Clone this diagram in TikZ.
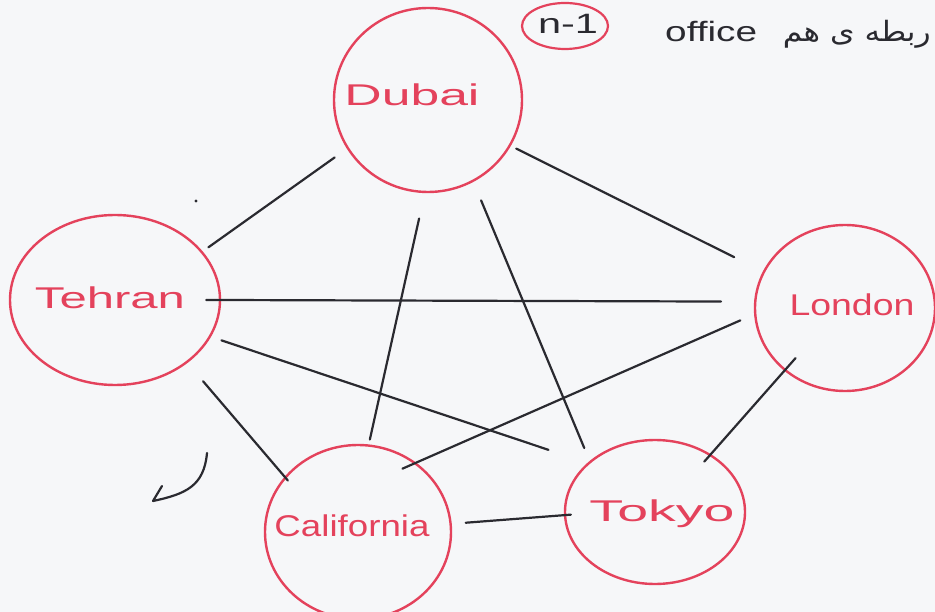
\documentclass[tikz,border=0pt]{standalone}
\usepackage{fontspec}
\setmainfont{Liberation Sans}
\newfontfamily\farsi[Script=Arabic]{DejaVu Sans}
\usetikzlibrary{shapes.geometric}
\TeXXeTstate=1
\definecolor{penred}{RGB}{228,66,92}
\definecolor{ink}{RGB}{42,42,48}
\definecolor{paper}{RGB}{246,247,249}
% stretch a label horizontally to a given width, keeping its height
\newcommand{\fitw}[2]{\resizebox{#1}{\height}{#2}}
\begin{document}
\begin{tikzpicture}[x=1pt,y=-1pt,
  office/.style={ellipse, draw=penred, line width=2.4pt, inner sep=0pt},
  lbl/.style={text=penred, font=\fontsize{30}{30}\selectfont, inner sep=0pt},
  link/.style={draw=ink, line width=2.2pt, line cap=round, line join=round},
  note/.style={text=ink, font=\fontsize{28}{28}\selectfont, inner sep=0pt}]

\fill[paper] (0,0) rectangle (935,612);
\useasboundingbox (0,0) rectangle (935,612);
\clip (0,0) rectangle (935,612);

% offices
\node[office, minimum width=188pt, minimum height=184pt] (dubai)  at (428,100) {};
\node[office, minimum width=210pt, minimum height=170pt] (tehran) at (115,300) {};
\node[office, minimum width=180pt, minimum height=166pt] (london) at (845,308) {};
\node[office, minimum width=186pt, minimum height=174pt] (cali)   at (358,532) {};
\node[office, minimum width=180pt, minimum height=144pt] (tokyo)  at (655,512) {};

\node[lbl] (dubaiT)  at (412,95)  {\fitw{135pt}{Dubai}};
\node[lbl] (tehranT) at (110,298) {\fitw{150pt}{Tehran}};
\node[lbl] (londonT) at (852,305) {\fitw{125pt}{London}};
\node[lbl] (caliT)   at (352,526) {\fitw{155pt}{California}};
\node[lbl] (tokyoT)  at (662,514) {\fitw{145pt}{Tokyo}};

% every office is linked to the n-1 others
\draw[link, shorten <=15pt, shorten >=7pt]  (dubai.211)  -- (tehran.29);
\draw[link, shorten <=6pt,  shorten >=32pt] (dubai.331)  -- (london.156);
\draw[link, shorten <=26pt, shorten >=5pt]  (dubai.268)  -- (cali.83);
\draw[link, shorten <=20pt, shorten >=14pt] (dubai.299)  -- (tokyo.142);
\draw[link, shorten <=-15pt, shorten >=33pt] (tehran.0)  -- (london.176);
\draw[link, shorten <=24pt, shorten >=-5pt] (tehran.319) -- (cali.143);
\draw[link, shorten <=11pt, shorten >=41pt] (tehran.339) -- (tokyo.144);
\draw[link, shorten <=15pt, shorten >=-15pt] (london.184) -- (cali.50);
\draw[link, shorten <=-17pt, shorten >=-10pt] (london.226) -- (tokyo.46);
\draw[link, shorten <=14pt, shorten >=-7pt] (cali.5) -- (tokyo.182);

% note at the top
\node[office, minimum width=86pt, minimum height=46pt, line width=2.2pt] (count) at (565,26) {};
\node[note, anchor=base] (countT) at (568,34) {\fitw{60pt}{n-1}};
\node[note, anchor=base west] (officeT) at (665,42) {\fitw{92pt}{office}};
\node[note, anchor=base east] (farsiT) at (931,42) {\fitw{148pt}{\farsi\beginR ربطه ی هم\endR}};

% stray pen marks
\coordinate (hookA) at (207,453);
\coordinate (hookB) at (153,501);
\draw[link] (hookA) .. controls (204,486) and (186,494) .. (hookB) -- (162,486);
\fill[ink] (196,201) circle (1.6pt);
\end{tikzpicture}
\end{document}
